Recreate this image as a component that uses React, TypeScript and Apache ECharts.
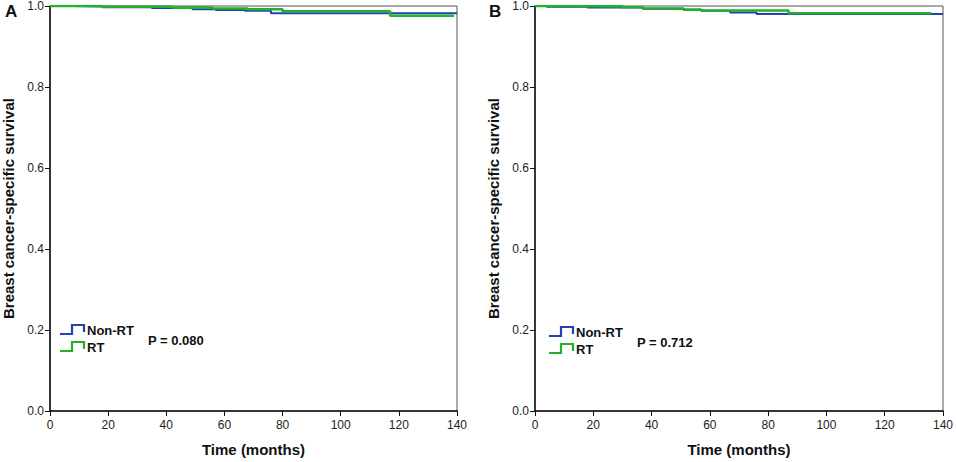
import React, { useEffect, useRef } from "react";
import * as echarts from "echarts";

const xTicks = [0, 20, 40, 60, 80, 100, 120, 140];
const yTicks = [0, 0.2, 0.4, 0.6, 0.8, 1.0];
const groupNames = ["Non-RT", "RT"];
const panelLabels = ["A", "B"];
const pValues = ["P = 0.080", "P = 0.712"];
const yTitle = "Breast cancer-specific survival";
const xTitle = "Time (months)";

// Kaplan-Meier steps [time, survival]
const nonRtA: [number, number][] = [
  [0, 1], [8, 0.999], [18, 0.997], [35, 0.995], [49, 0.992], [57, 0.99], [67, 0.988], [76, 0.982], [140, 0.982],
];
const rtA: [number, number][] = [
  [0, 1], [18, 0.998], [42, 0.996], [56, 0.994], [68, 0.992], [80, 0.987], [117, 0.976], [139, 0.976],
];
const nonRtB: [number, number][] = [
  [0, 1], [4, 0.998], [18, 0.996], [37, 0.993], [51, 0.99], [57, 0.988], [67, 0.984], [76, 0.98], [140, 0.98],
];
const rtB: [number, number][] = [
  [0, 1], [10, 0.999], [30, 0.997], [37, 0.994], [51, 0.991], [57, 0.989], [87, 0.982], [136, 0.982],
];

const BLUE = "#2440b4";
const GREEN = "#1fb22a";
const FONT = "'Liberation Sans', Arial, sans-serif";

export default function App() {
  const ref = useRef<HTMLDivElement>(null);
  useEffect(() => {
    document.body.style.margin = "0";
    if (!ref.current) return;
    const chart = echarts.init(ref.current, null, { renderer: "svg" });

    const grids = [
      { left: 47, top: 5, width: 410, height: 408 },
      { left: 535, top: 5, width: 409, height: 409 },
    ];

    const xAxis = grids.map((_, i) => ({
      type: "value",
      gridIndex: i,
      min: xTicks[0],
      max: xTicks[xTicks.length - 1],
      interval: 20,
      name: xTitle,
      nameLocation: "middle",
      nameGap: 31,
      nameTextStyle: { fontFamily: FONT, fontWeight: "bold", fontSize: 15, color: "#111" },
      axisLine: { show: true, onZero: false, lineStyle: { color: "#111", width: 1.5 } },
      axisTick: { show: true, length: 5, lineStyle: { color: "#111" } },
      axisLabel: { fontFamily: FONT, fontSize: 12, color: "#222", margin: 8 },
      splitLine: { show: false },
    }));

    const yAxis = grids.map((_, i) => ({
      type: "value",
      gridIndex: i,
      min: yTicks[0],
      max: yTicks[yTicks.length - 1],
      interval: 0.2,
      name: yTitle,
      nameLocation: "middle",
      nameGap: 34,
      nameTextStyle: { fontFamily: FONT, fontWeight: "bold", fontSize: 15, color: "#111" },
      axisLine: { show: true, onZero: false, lineStyle: { color: "#111", width: 1.5 } },
      axisTick: { show: true, length: 5, lineStyle: { color: "#111" } },
      axisLabel: {
        fontFamily: FONT,
        fontSize: 12,
        color: "#222",
        margin: 6,
        formatter: (v: number) => v.toFixed(1),
      },
      splitLine: { show: false },
    }));

    const mk = (name: string, data: [number, number][], color: string, idx: number, width: number) => ({
      type: "line",
      name,
      xAxisIndex: idx,
      yAxisIndex: idx,
      data,
      step: "end",
      showSymbol: false,
      symbol: "none",
      lineStyle: { color, width },
      itemStyle: { color },
    });

    const legendGraphics: any[] = [];
    const legendPos = [
      { x: 60, y: 330, px: 148, py: 340 },
      { x: 549, y: 332, px: 637, py: 342 },
    ];
    legendPos.forEach((p, i) => {
      [BLUE, GREEN].forEach((c, j) => {
        const yy = p.y + j * 17;
        legendGraphics.push({
          type: "polyline",
          shape: {
            points: [
              [p.x, yy + 4],
              [p.x + 12, yy + 4],
              [p.x + 12, yy - 5],
              [p.x + 24, yy - 5],
              [p.x + 24, yy + 2],
            ],
          },
          style: { stroke: c, lineWidth: 2.2, fill: null },
        });
        legendGraphics.push({
          type: "text",
          x: p.x + 27,
          y: yy,
          style: {
            text: groupNames[j],
            font: `bold 13px ${FONT}`,
            fill: "#111",
            verticalAlign: "middle",
            align: "left",
          },
        });
      });
      legendGraphics.push({
        type: "text",
        x: p.px,
        y: p.py,
        style: {
          text: pValues[i],
          font: `bold 13px ${FONT}`,
          fill: "#111",
          verticalAlign: "middle",
          align: "left",
        },
      });
    });
    legendGraphics.push(
      {
        type: "text",
        x: 5,
        y: 11,
        style: { text: panelLabels[0], font: `bold 17px ${FONT}`, fill: "#111", verticalAlign: "middle" },
      },
      {
        type: "text",
        x: 489,
        y: 11,
        style: { text: panelLabels[1], font: `bold 17px ${FONT}`, fill: "#111", verticalAlign: "middle" },
      }
    );

    chart.setOption({
      animation: false,
      backgroundColor: "#fff",
      grid: grids.map((g) => ({ ...g, show: true, borderColor: "#555", borderWidth: 1, backgroundColor: "transparent" })),
      xAxis,
      yAxis,
      series: [
        mk(groupNames[0], nonRtA, BLUE, 0, 2),
        mk(groupNames[1], rtA, GREEN, 0, 2.6),
        mk(groupNames[0], nonRtB, BLUE, 1, 2),
        mk(groupNames[1], rtB, GREEN, 1, 2.6),
      ],
      graphic: legendGraphics,
    });
    return () => chart.dispose();
  }, []);
  return <div ref={ref} style={{ width: 956, height: 462 }} />;
}
